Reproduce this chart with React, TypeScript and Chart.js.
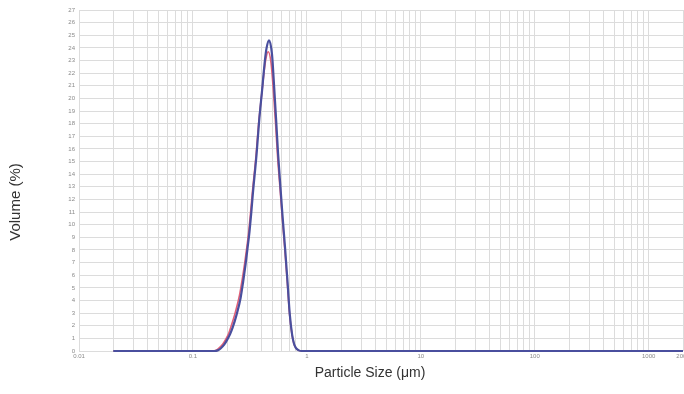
import React, { useEffect, useRef } from "react";
import { Chart, registerables } from "chart.js";

Chart.register(...registerables);

// Particle size classes (µm) and volume (%)
const blueSizes = [0.02, 0.1, 0.155, 0.165, 0.175, 0.188, 0.2, 0.212, 0.223, 0.242, 0.262, 0.276, 0.29, 0.302, 0.314, 0.324, 0.336, 0.362, 0.381, 0.406, 0.428, 0.443, 0.466, 0.494, 0.517, 0.538, 0.559, 0.587, 0.61, 0.643, 0.676, 0.708, 0.742, 0.77, 0.8, 0.85, 0.9, 1, 2000];
const blueVolume = [0, 0, 0, 0.05, 0.2, 0.5, 0.9, 1.35, 1.85, 2.9, 4.2, 5.5, 6.9, 8.2, 9.5, 10.8, 12.5, 15.6, 18.2, 20.8, 23.0, 24.0, 24.6, 23.5, 20.8, 18.2, 15.6, 12.9, 10.8, 8.2, 5.5, 2.9, 1.3, 0.6, 0.25, 0.05, 0, 0, 0];

const redSizes = [0.02, 0.1, 0.148, 0.16, 0.17, 0.183, 0.195, 0.207, 0.217, 0.236, 0.256, 0.271, 0.285, 0.298, 0.31, 0.32, 0.332, 0.358, 0.377, 0.402, 0.425, 0.44, 0.458, 0.485, 0.51, 0.532, 0.553, 0.582, 0.605, 0.638, 0.672, 0.705, 0.74, 0.768, 0.798, 0.848, 0.9, 1, 2000];
const redVolume = [0, 0, 0, 0.07, 0.25, 0.55, 0.95, 1.45, 2.0, 3.1, 4.4, 5.7, 7.0, 8.3, 9.6, 10.9, 12.5, 15.5, 18.0, 20.4, 22.4, 23.3, 23.7, 22.8, 20.4, 17.9, 15.4, 12.8, 10.8, 8.2, 5.5, 2.9, 1.3, 0.6, 0.25, 0.05, 0, 0, 0];

const xLabelTicks = [0.01, 0.1, 1, 10, 100, 1000, 2000];
const xTitle = "Particle Size (μm)";
const yTitle = "Volume (%)";

const xMin = 0.01;
const xMax = 2000;
const yMax = 27;

function gridTicks(): number[] {
  const out: number[] = [];
  for (let d = 0.01; d < 2000; d *= 10) {
    for (let m = 1; m <= 9; m++) {
      const v = parseFloat((m * d).toPrecision(6));
      if (v <= xMax) out.push(v);
    }
  }
  out.push(xMax);
  return Array.from(new Set(out)).sort((a, b) => a - b);
}

const titlesPlugin = {
  id: "axisTitles",
  afterDraw(chart: any) {
    const ctx = chart.ctx;
    ctx.save();
    ctx.fillStyle = "#333333";
    ctx.font = "14px 'Liberation Sans', Arial, sans-serif";
    ctx.textAlign = "center";
    ctx.textBaseline = "middle";
    ctx.fillText(xTitle, 370, 373);
    ctx.translate(16, 202);
    ctx.rotate(-Math.PI / 2);
    ctx.font = "15px 'Liberation Sans', Arial, sans-serif";
    ctx.fillText(yTitle, 0, 0);
    ctx.restore();
  },
};

export default function App() {
  const ref = useRef<HTMLCanvasElement | null>(null);

  useEffect(() => {
    if (!ref.current) return;
    const chart = new Chart(ref.current, {
      type: "line",
      data: {
        datasets: [
          {
            label: "Blue",
            data: blueSizes.map((x, i) => ({ x, y: blueVolume[i] })),
            borderColor: "#4a4f9e",
            borderWidth: 2.2,
            pointRadius: 0,
            cubicInterpolationMode: "monotone",
            clip: 6,
          },
          {
            label: "Red",
            data: redSizes.map((x, i) => ({ x, y: redVolume[i] })),
            borderColor: "#e06078",
            borderWidth: 1.6,
            pointRadius: 0,
            cubicInterpolationMode: "monotone",
            clip: 6,
          },
        ],
      },
      options: {
        responsive: false,
        animation: false,
        layout: { padding: { top: 10, right: 1, left: 0, bottom: 0 } },
        plugins: {
          legend: { display: false },
          tooltip: { enabled: false },
        },
        scales: {
          x: {
            type: "logarithmic",
            min: xMin,
            max: xMax,
            afterBuildTicks: (scale: any) => {
              scale.ticks = gridTicks().map((v) => ({ value: v }));
            },
            afterFit: (scale: any) => {
              scale.height = 43;
              scale.paddingLeft = 0;
              scale.paddingRight = 0;
            },
            grid: { color: "#dcdcdc", lineWidth: 1, drawTicks: false },
            border: { display: false },
            ticks: {
              autoSkip: false,
              maxRotation: 0,
              minRotation: 0,
              padding: 2,
              color: "#8a8a8a",
              font: { size: 6, family: "'Liberation Sans', Arial, sans-serif" },
              callback: (v: any) => {
                const n = Number(v);
                return xLabelTicks.some((t) => Math.abs(t - n) / t < 1e-6) ? String(n) : "";
              },
            },
          },
          y: {
            type: "linear",
            min: 0,
            max: yMax,
            afterFit: (scale: any) => {
              scale.width = 79;
              scale.paddingTop = 0;
              scale.paddingBottom = 0;
            },
            grid: { color: "#dcdcdc", lineWidth: 1, drawTicks: false },
            border: { display: false },
            ticks: {
              stepSize: 1,
              autoSkip: false,
              padding: 4,
              color: "#8a8a8a",
              font: { size: 6, family: "'Liberation Sans', Arial, sans-serif" },
            },
          },
        },
      },
      plugins: [titlesPlugin],
    });
    return () => chart.destroy();
  }, []);

  return (
    <div style={{ position: "absolute", left: 0, top: 0, width: 684, height: 394, background: "#ffffff", overflow: "hidden" }}>
      <canvas ref={ref} width={684} height={394} style={{ display: "block" }} />
    </div>
  );
}
